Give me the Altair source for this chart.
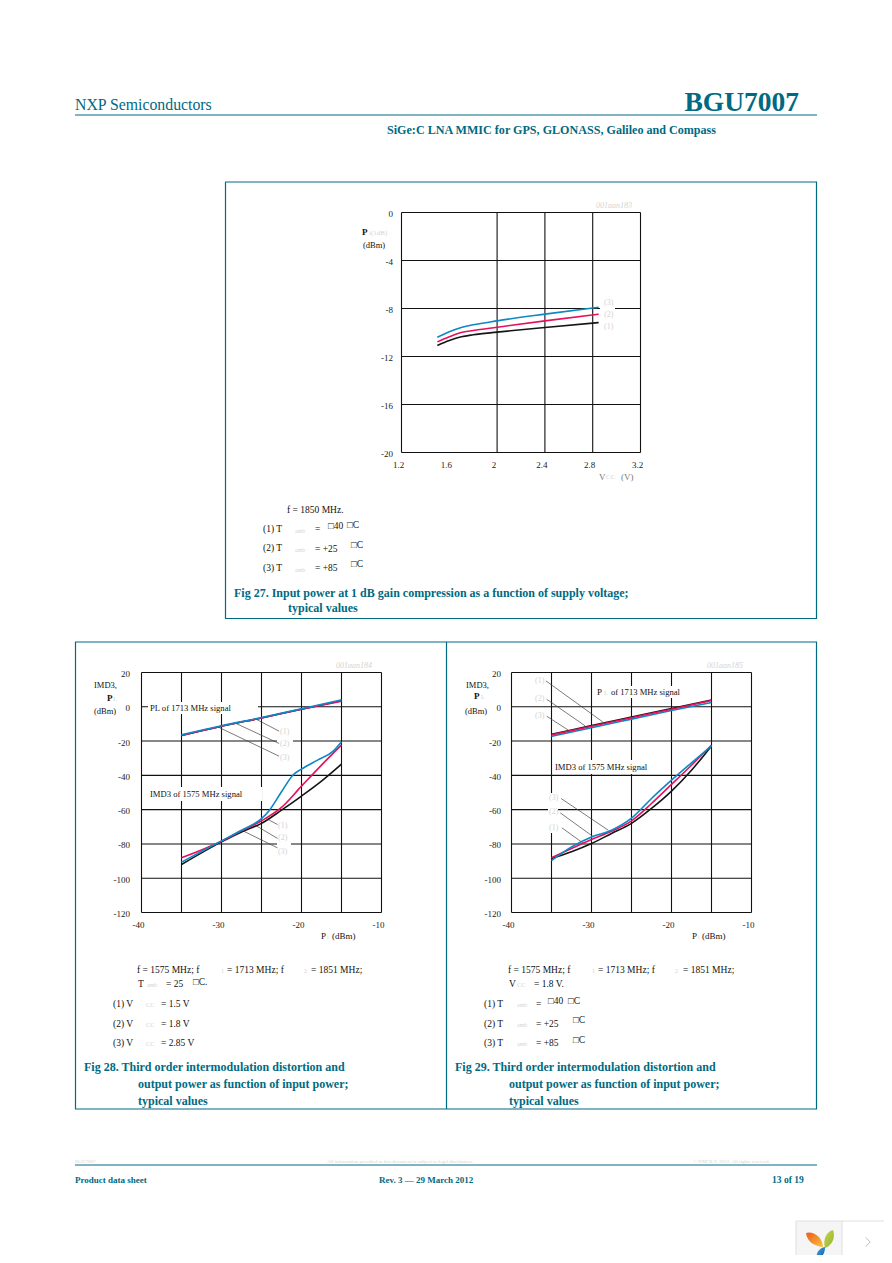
import altair as alt
import pandas as pd

TEAL = "#006a82"
BLUE = "#0a88c8"
RED = "#e6105c"
BLACK = "#151515"
LIGHT = "#d4d4d4"
GRIDC = "#111111"
FONT = "Liberation Serif"
OFF = 8
CAP = 12

# ---------- data ----------
f27_x = [1.5, 1.6, 1.7, 1.8, 2.0, 2.4, 2.85]
f27_1 = [-11.08, -10.67, -10.36, -10.19, -9.97, -9.58, -9.17]
f27_2 = [-10.78, -10.36, -10.00, -9.83, -9.56, -9.03, -8.47]
f27_3 = [-10.39, -9.94, -9.58, -9.36, -9.03, -8.47, -7.89]

pl_x = [-35, -30, -25, -20, -15]
f28_pl1 = [-16.7, -11.3, -6.5, -1.4, 3.5]
f28_pl2 = [-16.7, -11.3, -6.5, -1.4, 3.3]
f28_pl3 = [-16.4, -11.1, -6.3, -1.2, 4.05]
f28_i1_x = [-35, -30, -27.5, -25, -22.5, -20, -17.5, -15]
f28_i1 = [-92.0, -78.8, -73.0, -68.0, -60.3, -52.1, -43.4, -33.5]
f28_i2_x = [-35, -30, -27.5, -25, -22.5, -20, -17.5, -15]
f28_i2 = [-88.1, -78.4, -72.4, -66.5, -58.7, -46.3, -34.0, -22.2]
f28_i3_x = [-35, -30, -27.5, -25, -24, -22.5, -21, -20, -18, -16, -15]
f28_i3 = [-90.6, -78.2, -72.0, -65.2, -60.3, -49.6, -39.5, -36.4, -31.1, -25.7, -20.4]

f29_pl1 = [-16.0, -11.0, -6.0, -1.0, 4.0]
f29_pl2 = [-16.4, -11.4, -6.4, -1.4, 3.7]
f29_pl3 = [-17.3, -12.2, -7.2, -2.2, 2.5]
f29_x = [-35, -32.5, -30, -27.5, -25, -22.5, -20, -17.5, -15]
f29_i1 = [-88.5, -84.6, -79.8, -73.9, -68.0, -59.3, -49.2, -37.0, -22.8]
f29_i2 = [-88.1, -82.7, -77.4, -72.6, -66.5, -56.4, -45.3, -34.1, -22.4]
f29_i3 = [-89.7, -81.7, -75.9, -72.0, -65.0, -53.5, -42.8, -32.7, -22.8]

f27_xticks = [1.2, 1.6, 2.0, 2.4, 2.8, 3.2]
f27_xlabels = ["1.2", "1.6", "2", "2.4", "2.8", "3.2"]
f27_yticks = [0, -4, -8, -12, -16, -20]
imd_xticks = [-40, -30, -20, -10]
imd_yticks = [20, 0, -20, -40, -60, -80, -100, -120]
f27_xgrid = [2.0, 2.4, 2.8]
imd_xgrid = [-35, -30, -25, -20, -15]

f28_leaders = [
    [(-25.7, -7.2), (-22.8, -14.2)], [(-28.2, -9.7), (-22.8, -21.4)], [(-30.3, -12.1), (-22.8, -28.8)],
    [(-24.4, -65.2), (-23.0, -68.7)], [(-25.8, -69.0), (-23.0, -76.8)], [(-27.3, -72.4), (-23.0, -82.3)],
]
f29_leaders = [
    [(-35.7, 15.1), (-28.6, -8.8)], [(-35.6, 4.4), (-30.8, -11.1)], [(-35.6, -5.5), (-32.9, -13.6)],
    [(-33.8, -53.5), (-27.9, -72.0)], [(-33.9, -61.9), (-29.75, -75.9)], [(-33.7, -70.6), (-31.0, -79.7)],
]

PETAL_ORANGE = "M-0.93 -0.8 C-0.5 -0.95 0.15 -0.6 0.2 0.13 C-0.2 0.1 -0.85 -0.1 -0.93 -0.8Z"
PETAL_GREEN = "M0.87 -1 C1.05 -0.5 0.8 0.05 0.33 0.2 C0.2 -0.3 0.35 -0.85 0.87 -1Z"
PETAL_BLUE = "M0.33 0.13 C0.35 0.55 0.1 0.9 -0.2 0.93 C-0.3 0.6 -0.1 0.2 0.33 0.13Z"
CHEVRON = "M-0.5 -1 L0.5 0 L-0.5 1"


# ---------- helpers ----------
def panel_scales(xd, xr, yd, yr):
    return (
        alt.Scale(domain=xd, range=[xr[0] - OFF, xr[1] - OFF], nice=False, zero=False),
        alt.Scale(domain=yd, range=[yr[0] - OFF, yr[1] - OFF], nice=False, zero=False),
    )


def segs(pairs, sx, sy, color, width):
    rows = []
    for i, (a, b) in enumerate(pairs):
        rows.append({"g": i, "o": 0, "x": a[0], "y": a[1]})
        rows.append({"g": i, "o": 1, "x": b[0], "y": b[1]})
    return alt.Chart(pd.DataFrame(rows)).mark_line(color=color, strokeWidth=width).encode(
        x=alt.X("x:Q", scale=sx, axis=None),
        y=alt.Y("y:Q", scale=sy, axis=None),
        detail="g:N",
        order="o:Q",
    )


def curve(xs, ys, sx, sy, color, width=1.6):
    return alt.Chart(pd.DataFrame({"x": xs, "y": ys})).mark_line(
        color=color, strokeWidth=width, interpolate="monotone"
    ).encode(
        x=alt.X("x:Q", scale=sx, axis=None),
        y=alt.Y("y:Q", scale=sy, axis=None),
    )


def txt(x, y, s, size=9.5, color="#111", weight="normal", style="normal", align="left"):
    return alt.Chart(pd.DataFrame({"t": [s]})).mark_text(
        font=FONT, fontSize=size, color=color, fontWeight=weight, fontStyle=style,
        align=align, baseline="middle",
    ).encode(text="t:N", x=alt.value(x - OFF), y=alt.value(y - OFF))


def hline(x1, x2, y, color=TEAL, w=1.2):
    return alt.Chart(pd.DataFrame({"a": [0]})).mark_rule(color=color, strokeWidth=w).encode(
        x=alt.value(x1 - OFF), x2=alt.value(x2 - OFF), y=alt.value(y - OFF))


def vline(x, y1, y2, color=TEAL, w=1.2):
    return alt.Chart(pd.DataFrame({"a": [0]})).mark_rule(color=color, strokeWidth=w).encode(
        x=alt.value(x - OFF), y=alt.value(y1 - OFF), y2=alt.value(y2 - OFF))


def box(x1, x2, y1, y2, fill="white"):
    return alt.Chart(pd.DataFrame({"a": [0]})).mark_rect(fill=fill, stroke=None).encode(
        x=alt.value(x1 - OFF), x2=alt.value(x2 - OFF), y=alt.value(y1 - OFF), y2=alt.value(y2 - OFF))


def glyph(x, y, path, size, c1, c2=None, stroke=None):
    if stroke:
        m = alt.Chart(pd.DataFrame({"a": [0]})).mark_point(
            shape=path, size=size, filled=False, stroke=stroke, strokeWidth=1, opacity=1)
    else:
        grad = alt.LinearGradient(gradient="linear", x1=0, y1=0, x2=1, y2=1,
                                  stops=[alt.GradientStop(offset=0, color=c1), alt.GradientStop(offset=1, color=c2)])
        m = alt.Chart(pd.DataFrame({"a": [0]})).mark_point(
            shape=path, size=size, filled=True, fill=grad, strokeWidth=0, opacity=1)
    return m.encode(x=alt.value(x - OFF), y=alt.value(y - OFF))


def xlabels(vals, labels, sx, y, dx=-3):
    return alt.Chart(pd.DataFrame({"v": vals, "t": labels})).mark_text(
        font=FONT, fontSize=9, color="#222", align="center", baseline="middle", dx=dx
    ).encode(x=alt.X("v:Q", scale=sx, axis=None), y=alt.value(y - OFF), text="t:N")


def ylabels(vals, sy, x, dy=1.5):
    return alt.Chart(pd.DataFrame({"v": vals, "t": [str(v) for v in vals]})).mark_text(
        font=FONT, fontSize=9, color="#222", align="right", baseline="middle", dy=dy
    ).encode(y=alt.Y("v:Q", scale=sy, axis=None), x=alt.value(x - OFF), text="t:N")


def grid(xvals, yvals, xd, yd, sx, sy):
    pairs = [[(v, yd[0]), (v, yd[1])] for v in xvals] + [[(xd[0], v), (xd[1], v)] for v in yvals]
    return segs(pairs, sx, sy, GRIDC, 1.1)


layers = []

# ---------- page furniture ----------
layers += [
    txt(75, 105, "NXP Semiconductors", size=15.8, color=TEAL),
    txt(799, 103, "BGU7007", size=27.5, color=TEAL, weight="bold", align="right"),
    hline(75, 817, 115),
    txt(387, 130, "SiGe:C LNA MMIC for GPS, GLONASS, Galileo and Compass", size=12.1, color=TEAL, weight="bold"),
    hline(225, 817, 182), hline(225, 817, 618.5), vline(225.5, 182, 618.5), vline(816.5, 182, 618.5),
    hline(75, 817, 642), hline(75, 817, 1109), vline(75.5, 642, 1109), vline(816.5, 642, 1109), vline(446.5, 642, 1109),
    txt(75, 1161, "BGU7007", size=5, color=LIGHT),
    txt(327, 1161, "All information provided in this document is subject to legal disclaimers.", size=5, color=LIGHT),
    txt(693, 1161, "© NXP B.V. 2012. All rights reserved.", size=5, color=LIGHT),
    hline(75, 817, 1165),
    txt(75, 1180, "Product data sheet", size=9, color=TEAL, weight="bold"),
    txt(379, 1180, "Rev. 3 — 29 March 2012", size=9, color=TEAL, weight="bold"),
    txt(772, 1180, "13 of 19", size=9.5, color=TEAL, weight="bold"),
    # pager widget
    box(796, 842, 1221, 1255, fill="#f5f5f5"),
    hline(796, 884, 1221, color="#e0e0e0", w=1),
    vline(796, 1221, 1255, color="#e0e0e0", w=1), vline(842, 1221, 1255, color="#e0e0e0", w=1),
    glyph(820, 1245, PETAL_ORANGE, 900, "#ee5a1c", "#f8c440"),
    glyph(820, 1245, PETAL_GREEN, 900, "#c8d24a", "#8fb82e"),
    glyph(820, 1245, PETAL_BLUE, 900, "#3f9fdc", "#0f5fae"),
    glyph(868, 1242, CHEVRON, 81, "", stroke="#bbbbbb"),
]

# ---------- Fig 27 ----------
d_x, d_y = [1.2, 3.2], [-20, 0]
sx, sy = panel_scales(d_x, [401.5, 640.5], d_y, [452.5, 212.5])
layers += [
    grid([1.2, 3.2] + f27_xgrid, f27_yticks, d_x, d_y, sx, sy),
    box(600, 615, 297, 333),
    curve(f27_x, f27_1, sx, sy, BLACK), curve(f27_x, f27_2, sx, sy, RED), curve(f27_x, f27_3, sx, sy, BLUE),
    xlabels(f27_xticks, f27_xlabels, sx, 465),
    ylabels(f27_yticks, sy, 393),
    txt(362, 232, "P", size=9, weight="bold"), txt(369, 233, "i(1dB)", size=7, color=LIGHT),
    txt(363, 245, "(dBm)", size=8.5),
    txt(596, 206, "001aan183", size=8, color=LIGHT, style="italic"),
    txt(599, 477, "V", size=9, color="#777"), txt(606, 477, "CC", size=7, color=LIGHT), txt(621, 477, "(V)", size=9, color="#777"),
    txt(604, 303, "(3)", size=8, color=LIGHT), txt(604, 315, "(2)", size=8, color=LIGHT), txt(604, 327, "(1)", size=8, color=LIGHT),
    txt(287, 510, "f = 1850 MHz."),
    txt(263, 529, "(1) T"), txt(295, 531, "amb", size=6, color=LIGHT), txt(315, 529, "="), txt(328, 526, "□40"), txt(347, 525, "□C"),
    txt(263, 548, "(2) T"), txt(295, 550, "amb", size=6, color=LIGHT), txt(315, 549, "= +25"), txt(351, 545, "□C"),
    txt(263, 568, "(3) T"), txt(295, 570, "amb", size=6, color=LIGHT), txt(315, 568, "= +85"), txt(351, 564, "□C"),
    txt(234, 593, "Fig 27. Input power at 1 dB gain compression as a function of supply voltage;", size=CAP, color=TEAL, weight="bold"),
    txt(288, 608, "typical values", size=CAP, color=TEAL, weight="bold"),
]

# ---------- Fig 28 ----------
d_x, d_y = [-40, -10], [-120, 20]
sx, sy = panel_scales(d_x, [141.5, 381.5], d_y, [912.5, 672.5])
layers += [
    grid([-40, -10] + imd_xgrid, imd_yticks, d_x, d_y, sx, sy),
    box(148, 258, 702, 714), box(148, 262, 787, 801), box(277, 293, 725, 765), box(277, 291, 820, 858),
    segs(f28_leaders, sx, sy, "#444", 0.7),
    curve(pl_x, f28_pl1, sx, sy, BLACK), curve(pl_x, f28_pl2, sx, sy, RED), curve(pl_x, f28_pl3, sx, sy, BLUE),
    curve(f28_i1_x, f28_i1, sx, sy, BLACK), curve(f28_i2_x, f28_i2, sx, sy, RED), curve(f28_i3_x, f28_i3, sx, sy, BLUE),
    xlabels(imd_xticks, [str(v) for v in imd_xticks], sx, 925),
    ylabels(imd_yticks, sy, 130),
    txt(94, 685, "IMD3,", size=8.5), txt(107, 698, "P", size=9, weight="bold"), txt(113, 699, "L", size=6.5, color=LIGHT), txt(94, 711, "(dBm)", size=8.5),
    txt(150, 708, "PL  of 1713 MHz signal", size=8.6), txt(150, 794, "IMD3 of 1575 MHz signal", size=8.6),
    txt(280, 732, "(1)", size=8, color=LIGHT), txt(280, 744, "(2)", size=8, color=LIGHT), txt(280, 758, "(3)", size=8, color=LIGHT),
    txt(278, 826, "(1)", size=8, color=LIGHT), txt(278, 838, "(2)", size=8, color=LIGHT), txt(278, 852, "(3)", size=8, color=LIGHT),
    txt(321, 936, "P", size=9), txt(327, 937, "i", size=6, color=LIGHT), txt(332, 936, "(dBm)", size=9),
    txt(336, 666, "001aan184", size=8, color=LIGHT, style="italic"),
    txt(137, 970, "f = 1575 MHz; f"), txt(221, 971, "1", size=6, color=LIGHT), txt(227, 970, "= 1713 MHz; f"), txt(304, 971, "2", size=6, color=LIGHT), txt(311, 970, "= 1851 MHz;"),
    txt(138, 984, "T"), txt(147, 985, "amb", size=6, color=LIGHT), txt(166, 984, "= 25"), txt(193, 982, "□C."),
    txt(113, 1004, "(1) V"), txt(146, 1005, "CC", size=6.5, color=LIGHT), txt(161, 1004, "= 1.5 V"),
    txt(113, 1024, "(2) V"), txt(146, 1025, "CC", size=6.5, color=LIGHT), txt(161, 1024, "= 1.8 V"),
    txt(113, 1043, "(3) V"), txt(146, 1044, "CC", size=6.5, color=LIGHT), txt(161, 1043, "= 2.85 V"),
    txt(84, 1067, "Fig 28. Third order intermodulation distortion and", size=CAP, color=TEAL, weight="bold"),
    txt(138, 1084, "output power as function of input power;", size=CAP, color=TEAL, weight="bold"),
    txt(138, 1101, "typical values", size=CAP, color=TEAL, weight="bold"),
]

# ---------- Fig 29 ----------
sx, sy = panel_scales(d_x, [511.5, 751.5], d_y, [912.5, 672.5])
layers += [
    grid([-40, -10] + imd_xgrid, imd_yticks, d_x, d_y, sx, sy),
    box(595, 680, 686, 698), box(553, 645, 760, 774), box(548, 558, 793, 833),
    segs(f29_leaders, sx, sy, "#444", 0.7),
    curve(pl_x, f29_pl3, sx, sy, BLUE), curve(pl_x, f29_pl1, sx, sy, BLACK), curve(pl_x, f29_pl2, sx, sy, RED),
    curve(f29_x, f29_i1, sx, sy, BLACK), curve(f29_x, f29_i2, sx, sy, RED), curve(f29_x, f29_i3, sx, sy, BLUE),
    xlabels(imd_xticks, [str(v) for v in imd_xticks], sx, 925),
    ylabels(imd_yticks, sy, 501),
    txt(466, 685, "IMD3,", size=8.5), txt(474, 696, "P", size=9, weight="bold"), txt(481, 697, "L", size=6.5, color=LIGHT), txt(465, 711, "(dBm)", size=8.5),
    txt(597, 692, "P", size=9), txt(604, 693, "L", size=6.5, color=LIGHT), txt(611, 692, "of 1713 MHz signal", size=8.6),
    txt(555, 767, "IMD3 of 1575 MHz signal", size=8.6),
    txt(535, 681, "(1)", size=8, color=LIGHT), txt(535, 699, "(2)", size=8, color=LIGHT), txt(535, 716, "(3)", size=8, color=LIGHT),
    txt(549, 798, "(3)", size=8, color=LIGHT), txt(549, 812, "(2)", size=8, color=LIGHT), txt(549, 828, "(1)", size=8, color=LIGHT),
    txt(692, 936, "P", size=9), txt(698, 937, "i", size=6, color=LIGHT), txt(702, 936, "(dBm)", size=9),
    txt(707, 666, "001aan185", size=8, color=LIGHT, style="italic"),
    txt(508, 970, "f = 1575 MHz; f"), txt(592, 971, "1", size=6, color=LIGHT), txt(598, 970, "= 1713 MHz; f"), txt(675, 971, "2", size=6, color=LIGHT), txt(683, 970, "= 1851 MHz;"),
    txt(509, 984, "V"), txt(517, 985, "CC", size=6.5, color=LIGHT), txt(534, 984, "= 1.8 V."),
    txt(484, 1004, "(1) T"), txt(517, 1005, "amb", size=6, color=LIGHT), txt(536, 1004, "="), txt(548, 1001, "□40"), txt(568, 1001, "□C"),
    txt(484, 1024, "(2) T"), txt(517, 1025, "amb", size=6, color=LIGHT), txt(536, 1024, "= +25"), txt(573, 1020, "□C"),
    txt(484, 1043, "(3) T"), txt(517, 1044, "amb", size=6, color=LIGHT), txt(536, 1043, "= +85"), txt(573, 1040, "□C"),
    txt(455, 1067, "Fig 29. Third order intermodulation distortion and", size=CAP, color=TEAL, weight="bold"),
    txt(509, 1084, "output power as function of input power;", size=CAP, color=TEAL, weight="bold"),
    txt(509, 1101, "typical values", size=CAP, color=TEAL, weight="bold"),
]

chart = alt.layer(*layers).resolve_scale(x="independent", y="independent").properties(
    width=876, height=1247, padding=0, autosize=alt.AutoSizeParams(type="none")
).configure_view(stroke=None)

chart.save("out.html", embed_options={"renderer": "svg", "actions": False})
